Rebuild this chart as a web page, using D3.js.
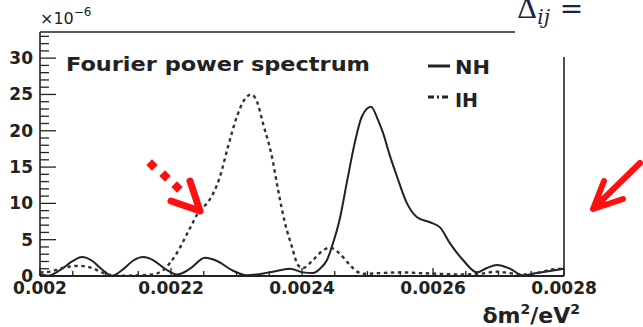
<!DOCTYPE html>
<html>
<head>
<meta charset="utf-8">
<script src="https://cdn.jsdelivr.net/npm/d3@7"></script>
<style>
  body { margin: 0; background: #fff; }
  svg { display: block; }
  text { font-family: "DejaVu Sans", sans-serif; font-weight: bold; fill: #222; }
</style>
</head>
<body>
<div id="chart"></div>
<script>
// dm^2 (eV^2) sample positions and power values (x1e-6)
const nhX = [0.002, 0.0020122, 0.0020305, 0.0020489, 0.0020641, 0.0020794, 0.0020947, 0.0021099,
  0.0021252, 0.002142, 0.0021573, 0.0021725, 0.0021908, 0.0022092, 0.002229, 0.0022519, 0.0022718,
  0.0022931, 0.002316, 0.0023511, 0.0023817, 0.0024015, 0.0024168, 0.0024275, 0.0024382, 0.0024473,
  0.002458, 0.0024687, 0.0024809, 0.0024916, 0.0025053, 0.002516, 0.0025237, 0.0025344, 0.002545,
  0.0025603, 0.0025756, 0.0025954, 0.0026107, 0.002626, 0.0026458, 0.0026672, 0.0026824, 0.0026977,
  0.0027176, 0.0027374, 0.0027588, 0.0027786, 0.0028]
const nhY = [0.3, 0.05, 0.8, 2.0, 2.6, 2.1, 0.9, 0.05,
  0.8, 2.1, 2.6, 2.2, 1.0, 0.2, 1.0, 2.5, 2.0,
  0.8, 0.1, 0.5, 1.0, 0.5, 0.4, 1.0, 2.2, 4.5,
  8, 13, 18.5, 22, 23.3, 21.5, 19.7, 16.5, 13.7,
  10, 8.1, 7.4, 6.7, 4.5, 2.2, 0.5, 1.1, 1.5,
  1.0, 0.1, 0.4, 0.7, 1.0]

const ihX = [0.002, 0.0020153, 0.0020305, 0.0020458, 0.0020611, 0.0020794, 0.0020947, 0.0021099,
  0.0021298, 0.0021527, 0.002171, 0.0021878, 0.0022092, 0.002229, 0.0022443, 0.002255, 0.0022748,
  0.002287, 0.0023008, 0.0023115, 0.0023221, 0.0023313, 0.0023405, 0.0023542, 0.0023634, 0.002374,
  0.0023847, 0.0023939, 0.0024015, 0.0024168, 0.0024305, 0.0024427, 0.0024534, 0.0024626, 0.0024733,
  0.002484, 0.0024962, 0.0025191, 0.0025496, 0.0025802, 0.0026107, 0.0026412, 0.0026718, 0.0026977,
  0.0027176, 0.0027405, 0.0027634, 0.0027817, 0.0028]
const ihY = [0.5, 0.6, 1.0, 1.3, 1.4, 1.1, 0.5, 0.1,
  0.05, 0.1, 0.2, 0.8, 3.2, 6.6, 9.1, 10, 13.7,
  17.8, 22, 24.2, 25, 24, 21, 16.4, 11.9, 7.3,
  4, 1.5, 1.1, 2.2, 3.4, 3.9, 3.4, 2.6, 1.5,
  0.6, 0.3, 0.4, 0.5, 0.4, 0.3, 0.2, 0.3, 0.6,
  0.4, 0.2, 0.5, 0.9, 1.0]

const xTicks = [0.002, 0.0022, 0.0024, 0.0026, 0.0028]
const xTickLabels = ['0.002', '0.0022', '0.0024', '0.0026', '0.0028']
const yTicks = [0, 5, 10, 15, 20, 25, 30]
const seriesNames = ['NH', 'IH']

const dimensions = { width: 643, height: 327 }
const margin = { left: 40, top: 32, right: 79, bottom: 51 }

const svg = d3.select('#chart').append('svg')
  .attr('width', dimensions.width)
  .attr('height', dimensions.height)

const x = d3.scaleLinear().domain([0.002, 0.0028])
  .range([margin.left, dimensions.width - margin.right])
const y = d3.scaleLinear().domain([0, 33.6])
  .range([dimensions.height - margin.bottom, margin.top])

const line = d3.line()
  .x(d => x(d[0]))
  .y(d => y(d[1]))
  .curve(d3.curveMonotoneX)

// curves
svg.append('path')
  .datum(nhX.map((v, i) => [v, nhY[i]]))
  .attr('d', line)
  .attr('fill', 'none')
  .attr('stroke', '#222')
  .attr('stroke-width', 2)

svg.append('path')
  .datum(ihX.map((v, i) => [v, ihY[i]]))
  .attr('d', line)
  .attr('fill', 'none')
  .attr('stroke', '#333')
  .attr('stroke-width', 2.4)
  .attr('stroke-dasharray', '3.5,3.5')

// frame
const x0 = x.range()[0], x1 = x.range()[1]
const y0 = y.range()[0], y1 = y.range()[1]
svg.append('line').attr('x1', x0).attr('x2', x0).attr('y1', y1).attr('y2', y0)
  .attr('stroke', '#222').attr('stroke-width', 1.6)
svg.append('line').attr('x1', x0).attr('x2', 515).attr('y1', y1).attr('y2', y1)
  .attr('stroke', '#222').attr('stroke-width', 1.6)
svg.append('line').attr('x1', x1).attr('x2', x1).attr('y1', 57).attr('y2', y0)
  .attr('stroke', '#222').attr('stroke-width', 1.6)

// y axis, ticks pointing inward
const yAxis = svg.append('g').attr('transform', `translate(${x0},0)`)
yAxis.selectAll('.minor')
  .data(d3.range(0, 34, 1))
  .enter().append('line')
  .attr('x1', 0).attr('x2', d => d % 5 === 0 ? 16 : 9)
  .attr('y1', d => y(d)).attr('y2', d => y(d))
  .attr('stroke', '#222').attr('stroke-width', 1.3)
yAxis.selectAll('.lbl')
  .data(yTicks)
  .enter().append('text')
  .attr('x', -7).attr('y', d => y(d) + 6)
  .attr('text-anchor', 'end')
  .style('font-size', '17px')
  .text(d => d)

// x axis
const xAxis = svg.append('g').attr('transform', `translate(0,${y0})`)
xAxis.append('line').attr('x1', x0).attr('x2', x1).attr('y1', 0).attr('y2', 0)
  .attr('stroke', '#222').attr('stroke-width', 2)
xAxis.selectAll('.tk')
  .data(d3.range(0, 17).map(i => 0.002 + i * 0.00005))
  .enter().append('line')
  .attr('x1', d => x(d)).attr('x2', d => x(d))
  .attr('y1', 0).attr('y2', (d, i) => i % 4 === 0 ? -8 : -5)
  .attr('stroke', '#222').attr('stroke-width', 1.3)
xAxis.selectAll('.lbl')
  .data(xTicks)
  .enter().append('text')
  .attr('x', d => x(d)).attr('y', 18)
  .attr('text-anchor', 'middle')
  .style('font-size', '17px')
  .text((d, i) => xTickLabels[i])

// axis titles
const xTitle = svg.append('text').attr('x', 580).attr('y', 323)
  .attr('text-anchor', 'end').style('font-size', '22px')
xTitle.append('tspan').text('δm')
xTitle.append('tspan').attr('dy', -9).style('font-size', '14px').text('2')
xTitle.append('tspan').attr('dy', 9).text('/eV')
xTitle.append('tspan').attr('dy', -9).style('font-size', '14px').text('2')

const expo = svg.append('text').attr('x', 40).attr('y', 24)
  .style('font-size', '16px').style('font-weight', 'normal')
expo.append('tspan').text('×10')
expo.append('tspan').attr('dy', -8).style('font-size', '12px').text('−6')

// title and legend
svg.append('text').attr('x', 66).attr('y', 71)
  .style('font-size', '20px')
  .attr('textLength', 304).attr('lengthAdjust', 'spacingAndGlyphs')
  .text('Fourier power spectrum')

const legend = svg.append('g')
legend.selectAll('line')
  .data(seriesNames)
  .enter().append('line')
  .attr('x1', 428).attr('x2', 450)
  .attr('y1', (d, i) => 66 + i * 31).attr('y2', (d, i) => 66 + i * 31)
  .attr('stroke', '#222').attr('stroke-width', 3)
  .attr('stroke-dasharray', (d, i) => i === 0 ? null : '6,3,2,3')
legend.selectAll('text')
  .data(seriesNames)
  .enter().append('text')
  .attr('x', 455).attr('y', (d, i) => 74 + i * 33)
  .style('font-size', '19px')
  .attr('textLength', (d, i) => i === 0 ? 35 : 23).attr('lengthAdjust', 'spacingAndGlyphs')
  .text(d => d)

// slide equation fragment in the corner
const eq = svg.append('text').attr('x', 517).attr('y', 18)
  .style('font-family', '"DejaVu Serif", serif').style('font-weight', 'normal')
  .style('fill', '#1a1f4d').style('font-size', '28px')
eq.append('tspan').text('Δ')
eq.append('tspan').attr('dy', 6).style('font-style', 'italic').style('font-size', '20px').text('ij')
eq.append('tspan').attr('dy', -6).attr('dx', 10).text('=')

// red annotation arrows
const red = '#ff1010'
svg.selectAll('.dot')
  .data([[152, 165], [165, 176], [177, 187]])
  .enter().append('rect')
  .attr('x', -4).attr('y', -4).attr('width', 8).attr('height', 8)
  .attr('transform', d => `translate(${d[0]},${d[1]}) rotate(45)`)
  .attr('fill', red)
svg.append('path')
  .attr('d', 'M190,181 L200,211 L171,201')
  .attr('fill', 'none').attr('stroke', red).attr('stroke-width', 7)
  .attr('stroke-linecap', 'round').attr('stroke-linejoin', 'round')
svg.append('path')
  .attr('d', 'M640,163 L593,209 M604,181 L593,209 L623,199')
  .attr('fill', 'none').attr('stroke', red).attr('stroke-width', 6)
  .attr('stroke-linecap', 'round').attr('stroke-linejoin', 'round')
</script>
</body>
</html>
